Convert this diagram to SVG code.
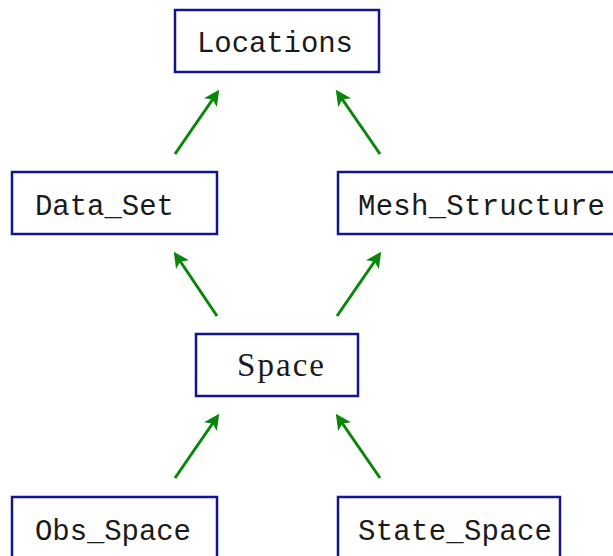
<svg xmlns="http://www.w3.org/2000/svg" width="613" height="556" viewBox="0 0 613 556">
<style>
.box{fill:#fff;stroke:#14148c;stroke-width:2.5}
.t{font-family:"Liberation Mono","DejaVu Sans Mono",monospace;font-size:29px;fill:#1a1a1a}
.s{font-family:"Liberation Serif","DejaVu Serif",serif;font-size:33px;fill:#1a1a1a}
.e{stroke:#0a850a;stroke-width:3;fill:none;marker-end:url(#ah)}
</style>
<defs>
<marker id="ah" viewBox="0 0 12 12" refX="9" refY="6" markerWidth="5.2" markerHeight="5.2" markerUnits="strokeWidth" orient="auto">
<path d="M0,0 L12,6 L0,12 L3,6 Z" fill="#0a850a"/>
</marker>
</defs>
<g id="connectors">
<line class="e" x1="175" y1="154" x2="217" y2="93"/>
<line class="e" x1="380" y1="154" x2="338" y2="93"/>
<line class="e" x1="217" y1="316" x2="176" y2="255"/>
<line class="e" x1="337" y1="316" x2="379" y2="255"/>
<line class="e" x1="175" y1="478" x2="217" y2="417"/>
<line class="e" x1="380" y1="478" x2="338" y2="417"/>
</g>
<g id="locations"><rect class="box" x="175" y="10" width="204" height="62"/><text class="t" x="197" y="52" textLength="156">Locations</text></g>
<g id="data_set"><rect class="box" x="12" y="172" width="205" height="62"/><text class="t" x="35" y="215" textLength="139">Data_Set</text></g>
<g id="mesh_structure"><rect class="box" x="338" y="172" width="280" height="62"/><text class="t" x="358" y="215" textLength="247">Mesh_Structure</text></g>
<g id="space"><rect class="box" x="196" y="334" width="162" height="62"/><text class="s" x="237" y="376" textLength="87">Space</text></g>
<g id="obs_space"><rect class="box" x="12" y="497" width="205" height="70"/><text class="t" x="35" y="540" textLength="156">Obs_Space</text></g>
<g id="state_space"><rect class="box" x="338" y="497" width="222" height="70"/><text class="t" x="358" y="540" textLength="194">State_Space</text></g>
</svg>
